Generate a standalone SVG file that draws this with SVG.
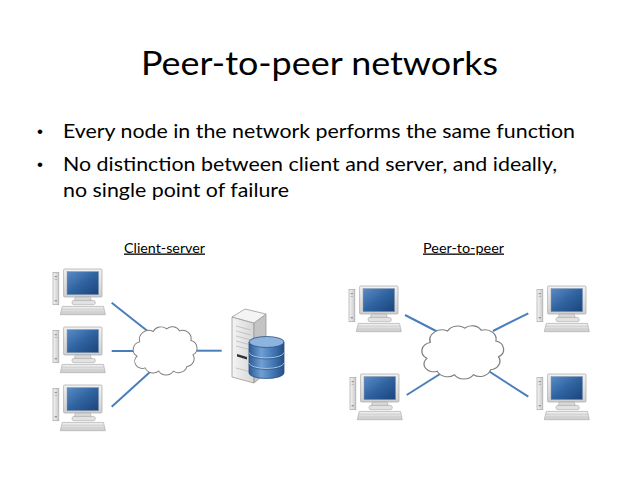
<svg xmlns="http://www.w3.org/2000/svg" xmlns:xlink="http://www.w3.org/1999/xlink" width="638" height="479" viewBox="0 0 638 479">
<style>
.title{font-family:Lato,"Open Sans","Liberation Sans",sans-serif;font-size:33px;fill:#000}
.body{font-family:Lato,"Open Sans","Liberation Sans",sans-serif;font-size:19px;fill:#000}
.bul{font-family:"Liberation Sans",sans-serif;font-size:17px;fill:#000}
.lbl{font-family:Lato,"Open Sans","Liberation Sans",sans-serif;font-size:13px;fill:#000;text-decoration:underline}
.link{stroke:#4a7ebb;stroke-width:2;fill:none}
.cloud{fill:#fff;stroke:#808080;stroke-width:1.5;vector-effect:non-scaling-stroke}
</style>
<defs>
<linearGradient id="gTower" x1="0" y1="0" x2="1" y2="0"><stop offset="0" stop-color="#f6f6f6"/><stop offset="1" stop-color="#c9c9c9"/></linearGradient>
<linearGradient id="gBezel" x1="0" y1="0" x2="0" y2="1"><stop offset="0" stop-color="#f2f2f2"/><stop offset="1" stop-color="#cfcfcf"/></linearGradient>
<linearGradient id="gScreen" x1="0" y1="0" x2="1" y2="1"><stop offset="0" stop-color="#5a8cc6"/><stop offset="0.5" stop-color="#2f63a0"/><stop offset="1" stop-color="#1c437a"/></linearGradient>
<linearGradient id="gKey" x1="0" y1="0" x2="0" y2="1"><stop offset="0" stop-color="#f0f0f0"/><stop offset="1" stop-color="#cdcdcd"/></linearGradient>
<linearGradient id="gCyl" x1="0" y1="0" x2="1" y2="0"><stop offset="0" stop-color="#2b5c97"/><stop offset="0.35" stop-color="#6f9fd3"/><stop offset="0.7" stop-color="#4276b3"/><stop offset="1" stop-color="#244f86"/></linearGradient>
<linearGradient id="gFront" x1="0" y1="0" x2="1" y2="0"><stop offset="0" stop-color="#f4f4f4"/><stop offset="1" stop-color="#d6d6d6"/></linearGradient>
<g id="pc">
<rect x="0" y="3.4" width="5.8" height="32.3" fill="url(#gTower)" stroke="#a8a8a8" stroke-width="0.7"/>
<rect x="1.6" y="7" width="2.4" height="1.2" fill="#9a9a9a"/>
<rect x="1.6" y="10" width="2.4" height="0.8" fill="#b0b0b0"/>
<rect x="1.6" y="31" width="2.4" height="1.4" fill="#9a9a9a"/>
<rect x="10.6" y="0" width="38.4" height="28" rx="1" fill="url(#gBezel)" stroke="#a8a8a8" stroke-width="0.7"/>
<rect x="14" y="2.5" width="31.6" height="23.2" fill="url(#gScreen)" stroke="#8a9bb0" stroke-width="0.5"/>
<polygon points="22.3,28 37.3,28 38.3,32 21.3,32" fill="#d9d9d9" stroke="#a8a8a8" stroke-width="0.6"/>
<rect x="19" y="31.4" width="23.3" height="4.3" rx="2" fill="#e2e2e2" stroke="#a8a8a8" stroke-width="0.6"/>
<polygon points="9.3,37.4 50.5,37.4 52.3,45.7 7.3,45.7" fill="url(#gKey)" stroke="#aeaeae" stroke-width="0.7"/>
<line x1="9" y1="40.2" x2="51" y2="40.2" stroke="#bdbdbd" stroke-width="0.5"/>
<line x1="8.5" y1="43" x2="51.6" y2="43" stroke="#bdbdbd" stroke-width="0.5"/>
</g>
<path id="cloudShape" d="M 10,48 A 12,12 0 0 1 14,26 A 14,14 0 0 1 34,10 A 13,13 0 0 1 54,6 A 12,12 0 0 1 73,9 A 13,13 0 0 1 90,24 A 12,12 0 0 1 93,46 A 12,12 0 0 1 84,64 A 13,13 0 0 1 64,71 A 13,13 0 0 1 42,71 A 13,13 0 0 1 22,66 A 11,11 0 0 1 10,48 Z"/>
</defs>
<rect width="638" height="479" fill="#fff"/>
<g id="texts">
<text class="title" x="141" y="75" textLength="357" lengthAdjust="spacingAndGlyphs">Peer-to-peer networks</text>
<text class="bul" x="37" y="137">•</text>
<text class="body" x="63" y="138" textLength="512" lengthAdjust="spacingAndGlyphs">Every node in the network performs the same function</text>
<text class="bul" x="37" y="170">•</text>
<text class="body" x="63" y="171" textLength="494" lengthAdjust="spacingAndGlyphs">No distinction between client and server, and ideally,</text>
<text class="body" x="63" y="197" textLength="226" lengthAdjust="spacingAndGlyphs">no single point of failure</text>
<text class="lbl" x="124" y="252.5" textLength="81" lengthAdjust="spacingAndGlyphs">Client-server</text>
<text class="lbl" x="423" y="252.5" textLength="81" lengthAdjust="spacingAndGlyphs">Peer-to-peer</text>
</g>
<g id="connectors">
<line class="link" x1="111.7" y1="302.7" x2="150" y2="333"/>
<line class="link" x1="111.7" y1="351" x2="136" y2="351"/>
<line class="link" x1="111.7" y1="406.7" x2="150" y2="372"/>
<line class="link" x1="195" y1="350.7" x2="221.7" y2="350.7"/>
<line class="link" x1="405" y1="315" x2="438" y2="332"/>
<line class="link" x1="493" y1="331" x2="528.3" y2="313.3"/>
<line class="link" x1="406.7" y1="395" x2="440" y2="374"/>
<line class="link" x1="487" y1="370" x2="528.3" y2="396.7"/>
</g>
<g id="cloud-client"><use xlink:href="#cloudShape" class="cloud" transform="translate(130.3,325) scale(0.674,0.649)"/></g>
<g id="cloud-p2p"><use xlink:href="#cloudShape" class="cloud" transform="translate(418.2,323.9) scale(0.863,0.716)"/></g>
<g id="client1"><use xlink:href="#pc" x="53" y="269"/></g>
<g id="client2"><use xlink:href="#pc" x="53" y="327"/></g>
<g id="client3"><use xlink:href="#pc" x="53" y="385"/></g>
<g id="server">
<polygon points="232,317 254,323 254,383 232,377" fill="url(#gFront)" stroke="#9a9a9a" stroke-width="0.8"/>
<polygon points="254,323 266,314 266,373 254,383" fill="#c4c4c4" stroke="#9a9a9a" stroke-width="0.8"/>
<polygon points="232,317 245,309 266,314 254,323" fill="#f4f4f4" stroke="#9a9a9a" stroke-width="0.8"/>
<g stroke="#b4b4b4" stroke-width="0.7">
<line x1="236" y1="326" x2="251" y2="330"/>
<line x1="236" y1="331" x2="251" y2="335"/>
<line x1="236" y1="336" x2="251" y2="340"/>
<line x1="236" y1="341" x2="251" y2="345"/>
<line x1="236" y1="346" x2="251" y2="350"/>
</g>
<polygon points="237,354 247,357 247,359.5 237,356.5" fill="#333"/>
<line x1="236" y1="368" x2="251" y2="372" stroke="#b4b4b4" stroke-width="0.7"/>
<path d="M249,342 L249,373 A17.5,5.5 0 0 0 284,373 L284,342 Z" fill="url(#gCyl)" stroke="#2b4f7e" stroke-width="0.8"/>
<path d="M249,352.5 A17.5,5.5 0 0 0 284,352.5" fill="none" stroke="#a9c6e8" stroke-width="1"/>
<path d="M249,363 A17.5,5.5 0 0 0 284,363" fill="none" stroke="#a9c6e8" stroke-width="1"/>
<path d="M249,353.5 A17.5,5.5 0 0 0 284,353.5" fill="none" stroke="#2b4f7e" stroke-width="0.6"/>
<path d="M249,364 A17.5,5.5 0 0 0 284,364" fill="none" stroke="#2b4f7e" stroke-width="0.6"/>
<ellipse cx="266.5" cy="342" rx="17.5" ry="5.5" fill="#8db4df" stroke="#2b4f7e" stroke-width="0.8"/>
</g>
<g id="peer1"><use xlink:href="#pc" x="349" y="286"/></g>
<g id="peer2"><use xlink:href="#pc" x="537" y="286"/></g>
<g id="peer3"><use xlink:href="#pc" x="350" y="374"/></g>
<g id="peer4"><use xlink:href="#pc" x="537" y="374"/></g>
</svg>
